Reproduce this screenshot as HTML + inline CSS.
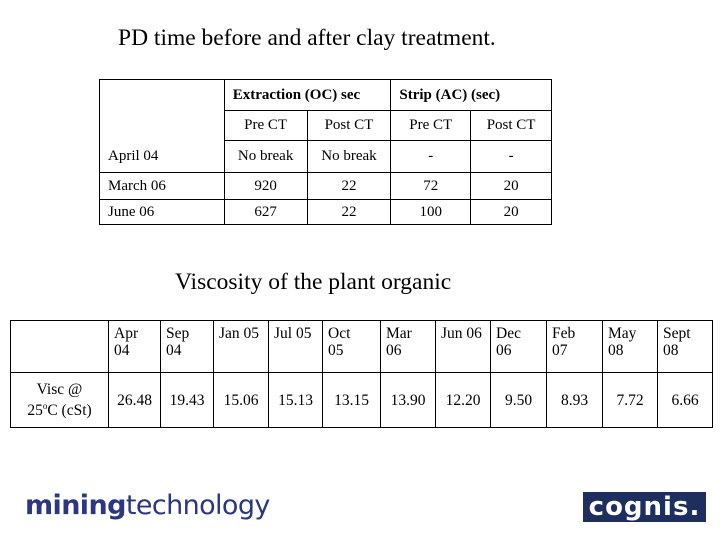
<!DOCTYPE html>
<html><head><meta charset="utf-8"><style>
body{margin:0;width:720px;height:540px;background:#fff;position:relative;overflow:hidden;font-family:"Liberation Serif",serif;color:#000}
.a{position:absolute}
table{position:absolute;border-collapse:collapse;font-size:15.5px}
td{border:1px solid #000;padding:0}
#t1 td{text-align:center}
#t1{font-size:15px}
#t2 td{vertical-align:top;padding:4px 0 0 5px;line-height:17px}
#t2 tr.v td{vertical-align:middle;text-align:center;padding:0}
</style></head><body>
<div class="a" style="left:118px;top:25px;font-size:23.5px">PD time before and after clay treatment.</div>
<table id="t1" style="left:99px;top:79px;width:453px">
<colgroup><col style="width:125px"><col style="width:83px"><col style="width:84px"><col style="width:80px"><col style="width:81px"></colgroup>
<tr style="height:31px"><td rowspan="2" style="border-bottom:none"></td><td colspan="2" style="text-align:left;padding-left:8px;font-weight:bold">Extraction (OC) sec</td><td colspan="2" style="text-align:left;padding-left:8px;font-weight:bold">Strip (AC) (sec)</td></tr>
<tr style="height:30px"><td>Pre CT</td><td>Post CT</td><td>Pre CT</td><td>Post CT</td></tr>
<tr style="height:32px"><td style="text-align:left;padding-left:8px;border-top:none">April 04</td><td>No break</td><td>No break</td><td>-</td><td>-</td></tr>
<tr style="height:27px"><td style="text-align:left;padding-left:8px">March 06</td><td>920</td><td>22</td><td>72</td><td>20</td></tr>
<tr style="height:25px"><td style="text-align:left;padding-left:8px">June 06</td><td>627</td><td>22</td><td>100</td><td>20</td></tr>
</table>
<div class="a" style="left:175px;top:269px;font-size:23.5px">Viscosity of the plant organic</div>
<table id="t2" style="left:10px;top:320px;width:703px">
<colgroup><col style="width:98px"><col style="width:52px"><col style="width:53px"><col style="width:55px"><col style="width:54px"><col style="width:58px"><col style="width:55px"><col style="width:55px"><col style="width:56px"><col style="width:56px"><col style="width:55px"><col style="width:55px"></colgroup>
<tr style="height:52px"><td></td><td>Apr<br>04</td><td>Sep<br>04</td><td>Jan 05</td><td>Jul 05</td><td>Oct<br>05</td><td>Mar<br>06</td><td>Jun 06</td><td>Dec<br>06</td><td>Feb<br>07</td><td>May<br>08</td><td>Sept<br>08</td></tr>
<tr class="v" style="height:55px"><td>Visc @<br>25<sup style="font-size:9px">o</sup>C (cSt)</td><td>26.48</td><td>19.43</td><td>15.06</td><td>15.13</td><td>13.15</td><td>13.90</td><td>12.20</td><td>9.50</td><td>8.93</td><td>7.72</td><td>6.66</td></tr>
</table>
<div class="a" style="left:25px;top:490px;font-family:'DejaVu Sans',sans-serif;font-size:27px;color:#2b3784;letter-spacing:-0.6px"><b>mining</b><span style="font-weight:normal">technology</span></div>
<div class="a" style="left:583px;top:492px;width:123px;height:30px;background:#1d2f5e;color:#fff;font-family:'DejaVu Sans',sans-serif;font-weight:bold;font-size:26px;line-height:30px;text-align:center;letter-spacing:1px">cognis.</div>
</body></html>
